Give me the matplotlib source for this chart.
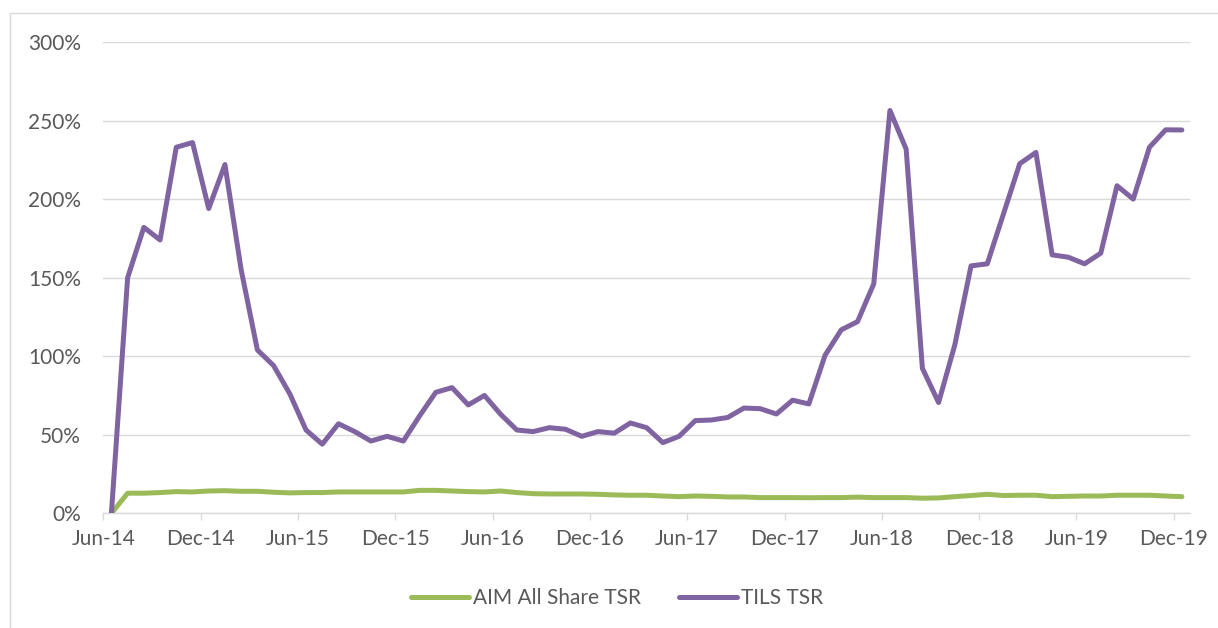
import matplotlib
matplotlib.use("Agg")
import matplotlib.pyplot as plt
from matplotlib.patches import Rectangle

plt.rcParams['font.family'] = ['Lato', 'DejaVu Sans']

tick_labels = ["Jun-14", "Dec-14", "Jun-15", "Dec-15", "Jun-16", "Dec-16",
               "Jun-17", "Dec-17", "Jun-18", "Dec-18", "Jun-19", "Dec-19"]

# monthly values, Jun-14 .. Dec-19 (67 months), in %
tils = [0, 150, 182, 174, 233, 236, 194, 222, 155, 104, 94, 76, 53, 44, 57, 52,
        46, 49, 46, 62, 77, 80, 69, 75, 63, 53, 52, 54.5, 53.5, 49, 52, 51, 57.5,
        54.5, 45, 49, 59, 59.4, 61, 67, 66.6, 63.2, 72, 69.6, 100.6, 116.8, 122,
        146, 256.4, 231.8, 92.3, 70.5, 107.2, 157.5, 158.8, 190.6, 222.5, 229.7,
        164.5, 163, 158.8, 165.6, 208.5, 200, 233, 244.1, 244]
aim = [0, 12.8, 12.8, 13.2, 13.8, 13.6, 14.2, 14.4, 14.0, 14.0, 13.4, 13.0, 13.2,
       13.2, 13.6, 13.6, 13.6, 13.6, 13.6, 14.6, 14.6, 14.2, 13.8, 13.6, 14.2,
       13.2, 12.5, 12.3, 12.3, 12.3, 12.1, 11.7, 11.5, 11.5, 11.0, 10.6, 11.0,
       10.8, 10.4, 10.4, 10.0, 10.0, 10.0, 9.9, 10.0, 10.0, 10.3, 10.0, 10.0,
       10.0, 9.6, 9.8, 10.6, 11.3, 12.1, 11.3, 11.5, 11.5, 10.6, 10.8, 11.0,
       11.0, 11.5, 11.5, 11.5, 11.0, 10.6]

fig = plt.figure(figsize=(12.18, 6.28), dpi=100)
ax = fig.add_axes([103.3 / 1218, 1 - 513.3 / 628, (1190 - 103.3) / 1218, (513.3 - 42) / 628])

# chart area border
fig.patches.append(Rectangle((10 / 1218, -0.1), 1.2, 1 - 13 / 628 + 0.1,
                             transform=fig.transFigure, fill=False,
                             edgecolor='#d9d9d9', linewidth=1.0))

x = [i + 0.5 for i in range(len(tils))]
ax.plot(x, aim, color='#9BBB59', linewidth=3.6, solid_capstyle='round',
        solid_joinstyle='round', label='AIM All Share TSR', zorder=3)
ax.plot(x, tils, color='#8064A2', linewidth=3.6, solid_capstyle='round',
        solid_joinstyle='round', label='TILS TSR', zorder=4)

ax.set_xlim(0, 67)
ax.set_ylim(0, 300)
ax.set_yticks(range(0, 301, 50))
ax.set_yticklabels([f"{v}%" for v in range(0, 301, 50)])
ax.set_xticks([6 * i for i in range(len(tick_labels))])
ax.set_xticklabels(tick_labels)

ax.grid(axis='y', color='#d9d9d9', linewidth=1.0)
ax.set_axisbelow(True)
for s in ['top', 'right', 'left']:
    ax.spines[s].set_visible(False)
ax.spines['bottom'].set_color('#d9d9d9')
ax.spines['bottom'].set_linewidth(1.0)

ax.tick_params(axis='y', length=0, pad=16, labelsize=15, labelcolor='#595959')
ax.tick_params(axis='x', length=5, width=1.0, color='#d9d9d9', pad=6,
               labelsize=15, labelcolor='#595959')

fig.legend(loc='center', bbox_to_anchor=(617 / 1218, 1 - 598 / 628), ncol=2,
           frameon=False, fontsize=15, labelcolor='#595959', handlelength=2.8,
           handletextpad=0.2, columnspacing=1.8)

fig.savefig('out.png', dpi=100)
